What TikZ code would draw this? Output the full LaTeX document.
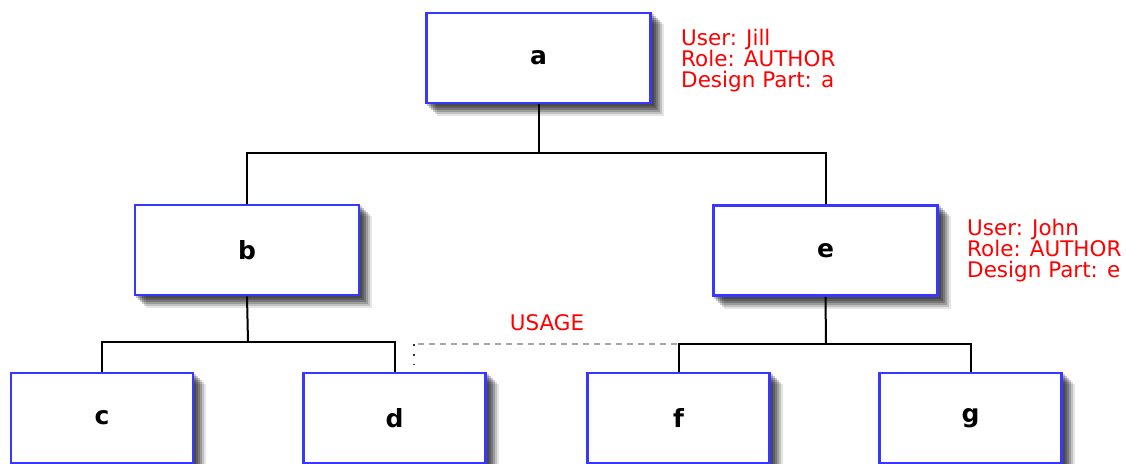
\documentclass[tikz,border=0pt]{standalone}
\usepackage{fontspec}
\setmainfont{DejaVu Sans}
\usetikzlibrary{backgrounds}
\definecolor{boxblue}{RGB}{55,55,255}
\begin{document}
\begin{tikzpicture}[x=1pt,y=-1pt,
  part/.style={draw=boxblue, line width=2.6pt, fill=white, minimum width=224pt, minimum height=90pt,
    font=\fontsize{25}{25}\selectfont\bfseries, inner sep=0pt},
  leaf/.style={part, minimum width=182pt},
  info/.style={text=red, font=\fontsize{21.5}{21}\selectfont, align=left, anchor=north west, inner sep=0pt},
  tree/.style={line width=2pt, black},
  usage/.style={line width=1.6pt, gray!70, dash pattern=on 6pt off 5pt}
]
\useasboundingbox (0,0) rectangle (1126,463);
\clip (0,0) rectangle (1126,463);
\node[part] (a) at (538.5,58) {a};
\node[part] (b) at (247,250) {b};
\node[part] (e) at (825.5,250.5) {e};
\node[leaf] (c) at (102,418) {c};
\node[leaf] (d) at (394.5,418) {d};
\node[leaf] (f) at (678.5,418) {f};
\node[leaf] (g) at (970.5,418) {g};

\begin{pgfonlayer}{background}
\foreach \n in {a,b,e,c,d,f,g}{
  \foreach \s/\o in {2/0.22,4/0.22,6/0.22,8/0.2,10/0.16,12/0.1}{
    \fill[black, fill opacity=\o] ([shift={(\s,\s)}]\n.north west) rectangle ([shift={(\s,\s)}]\n.south east);
  }
}
\end{pgfonlayer}

\coordinate (j1) at (538.5,153);
\coordinate (j2) at (248,342);
\coordinate (j3) at (826,344);
\coordinate (u1) at (414,344);

\draw[tree] (a.south) -- (j1);
\draw[tree] (b.north) |- (j1) -| (e.north);
\draw[tree] (b.south) -- (j2);
\draw[tree] (c.north) |- (j2) -| (d.north);
\draw[tree] (e.south) -- (j3);
\draw[tree] (f.north) |- (j3) -| (g.north);

\draw[usage] (u1) ++(4,0) -- (f.north |- j3);
\draw[line width=1.8pt, dash pattern=on 1.8pt off 8pt, black!80] (u1) -- (u1 |- d.north);
\node[text=red, font=\fontsize{21.5}{21}\selectfont] (lu) at (547,323) {USAGE};

\node[info] (ia) at (681,29) {User: Jill\\Role: AUTHOR\\Design Part: a};
\node[info] (ie) at (967,219) {User: John\\Role: AUTHOR\\Design Part: e};
\end{tikzpicture}
\end{document}
